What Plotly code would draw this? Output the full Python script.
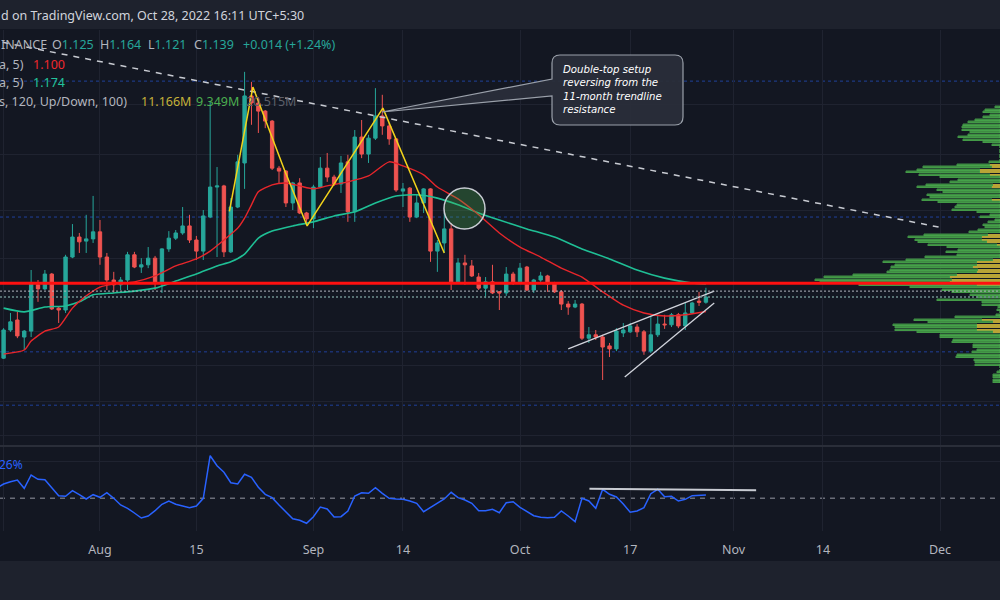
import numpy as np
import pandas as pd
import plotly.graph_objects as go

W, H = 1000, 600
FONT = "Noto Sans"

# ---------------- data ----------------
dates = pd.date_range("2022-07-18", "2022-10-28", freq="D")

opens = [0.974, 1.050, 1.077, 1.031, 1.047, 1.172, 1.161, 1.201, 1.109, 1.104,
         1.247, 1.301, 1.290, 1.296, 1.315, 1.247, 1.185, 1.172, 1.185, 1.253,
         1.220, 1.226, 1.244, 1.177, 1.269, 1.298, 1.312, 1.331, 1.293, 1.263,
         1.355, 1.436, 1.439, 1.261, 1.382, 1.501, 1.682, 1.663, 1.641, 1.614,
         1.487, 1.479, 1.393, 1.447, 1.366, 1.350, 1.436, 1.487, 1.463, 1.444,
         1.504, 1.369, 1.571, 1.525, 1.568, 1.628, 1.601, 1.566, 1.425, 1.433,
         1.355, 1.393, 1.431, 1.263, 1.285, 1.323, 1.180, 1.231, 1.223, 1.193,
         1.163, 1.180, 1.153, 1.150, 1.201, 1.180, 1.220, 1.158, 1.185, 1.196,
         1.177, 1.153, 1.120, 1.112, 1.120, 1.028, 1.037, 1.031, 1.007, 0.999,
         1.042, 1.045, 1.058, 1.045, 0.993, 1.037, 1.066, 1.064, 1.091, 1.061,
         1.096, 1.128, 1.125]
highs = [1.055, 1.096, 1.099, 1.050, 1.212, 1.185, 1.212, 1.204, 1.112, 1.253,
         1.336, 1.312, 1.361, 1.412, 1.347, 1.258, 1.207, 1.193, 1.261, 1.261,
         1.244, 1.274, 1.250, 1.271, 1.317, 1.320, 1.382, 1.361, 1.304, 1.374,
         1.666, 1.490, 1.442, 1.406, 1.523, 1.747, 1.720, 1.679, 1.644, 1.617,
         1.493, 1.482, 1.450, 1.460, 1.369, 1.442, 1.517, 1.528, 1.469, 1.520,
         1.523, 1.590, 1.617, 1.577, 1.703, 1.685, 1.609, 1.568, 1.447, 1.436,
         1.415, 1.433, 1.433, 1.293, 1.366, 1.339, 1.244, 1.253, 1.239, 1.204,
         1.193, 1.226, 1.155, 1.220, 1.207, 1.231, 1.223, 1.188, 1.207, 1.199,
         1.180, 1.158, 1.128, 1.131, 1.123, 1.058, 1.050, 1.037, 1.015, 1.055,
         1.069, 1.069, 1.066, 1.050, 1.088, 1.091, 1.091, 1.096, 1.096, 1.123,
         1.126, 1.153, 1.164]
lows = [0.972, 1.045, 1.028, 0.996, 1.031, 1.126, 1.158, 1.104, 1.069, 1.096,
        1.244, 1.258, 1.258, 1.285, 1.226, 1.158, 1.150, 1.158, 1.158, 1.217,
        1.204, 1.217, 1.158, 1.150, 1.261, 1.293, 1.307, 1.285, 1.239, 1.239,
        1.352, 1.247, 1.247, 1.258, 1.379, 1.431, 1.604, 1.582, 1.595, 1.482,
        1.447, 1.382, 1.374, 1.363, 1.334, 1.325, 1.433, 1.450, 1.439, 1.420,
        1.342, 1.342, 1.514, 1.501, 1.563, 1.577, 1.550, 1.423, 1.382, 1.342,
        1.352, 1.366, 1.234, 1.207, 1.258, 1.158, 1.177, 1.172, 1.193, 1.158,
        1.136, 1.147, 1.104, 1.142, 1.172, 1.177, 1.155, 1.150, 1.180, 1.153,
        1.150, 1.104, 1.091, 1.109, 1.023, 1.015, 1.023, 0.915, 0.977, 0.993,
        1.031, 1.042, 1.031, 0.983, 0.988, 1.031, 1.053, 1.058, 1.055, 1.050,
        1.093, 1.115, 1.121]
closes = [1.050, 1.072, 1.034, 1.047, 1.174, 1.161, 1.201, 1.107, 1.104, 1.247,
          1.301, 1.288, 1.296, 1.315, 1.247, 1.185, 1.172, 1.185, 1.253, 1.220,
          1.226, 1.244, 1.177, 1.269, 1.298, 1.312, 1.331, 1.293, 1.263, 1.358,
          1.436, 1.439, 1.261, 1.382, 1.504, 1.682, 1.663, 1.641, 1.614, 1.487,
          1.479, 1.393, 1.447, 1.366, 1.350, 1.436, 1.487, 1.463, 1.444, 1.501,
          1.369, 1.571, 1.525, 1.568, 1.628, 1.601, 1.566, 1.428, 1.431, 1.355,
          1.393, 1.431, 1.263, 1.285, 1.323, 1.180, 1.231, 1.226, 1.196, 1.163,
          1.180, 1.150, 1.150, 1.201, 1.180, 1.217, 1.158, 1.185, 1.196, 1.174,
          1.153, 1.120, 1.112, 1.120, 1.028, 1.037, 1.031, 1.004, 0.999, 1.047,
          1.050, 1.061, 1.045, 0.993, 1.037, 1.066, 1.064, 1.091, 1.061, 1.096,
          1.123, 1.125, 1.139]

ema_fast_dates = ["2022-07-18", "2022-07-21", "2022-07-22", "2022-07-24", "2022-07-26", "2022-07-28",
                  "2022-07-30", "2022-08-01", "2022-08-03", "2022-08-06", "2022-08-09", "2022-08-12",
                  "2022-08-15", "2022-08-17", "2022-08-19", "2022-08-21", "2022-08-22", "2022-08-23",
                  "2022-08-24", "2022-08-26", "2022-08-28", "2022-08-30", "2022-09-01", "2022-09-03",
                  "2022-09-06", "2022-09-09", "2022-09-12", "2022-09-14", "2022-09-17", "2022-09-19",
                  "2022-09-22", "2022-09-25", "2022-09-28", "2022-10-01", "2022-10-04", "2022-10-07",
                  "2022-10-10", "2022-10-13", "2022-10-16", "2022-10-19", "2022-10-22", "2022-10-25",
                  "2022-10-28"]
ema_fast = [0.985, 0.996, 1.020, 1.047, 1.058, 1.109, 1.142, 1.166, 1.174, 1.180, 1.196, 1.223,
            1.242, 1.263, 1.293, 1.325, 1.352, 1.388, 1.423, 1.442, 1.447, 1.439, 1.431, 1.439,
            1.450, 1.466, 1.504, 1.493, 1.469, 1.436, 1.404, 1.361, 1.312, 1.274, 1.247, 1.217,
            1.193, 1.153, 1.117, 1.096, 1.088, 1.091, 1.100]

ema_slow_dates = ["2022-07-18", "2022-07-21", "2022-07-24", "2022-07-27", "2022-07-29", "2022-07-31",
                  "2022-08-03", "2022-08-06", "2022-08-09", "2022-08-12", "2022-08-15", "2022-08-18",
                  "2022-08-20", "2022-08-22", "2022-08-24", "2022-08-26", "2022-08-29", "2022-09-01",
                  "2022-09-04", "2022-09-07", "2022-09-10", "2022-09-13", "2022-09-16", "2022-09-19",
                  "2022-09-22", "2022-09-25", "2022-09-28", "2022-10-02", "2022-10-06", "2022-10-10",
                  "2022-10-14", "2022-10-18", "2022-10-22", "2022-10-26", "2022-10-28"]
ema_slow = [1.109, 1.099, 1.112, 1.115, 1.126, 1.145, 1.150, 1.155, 1.163, 1.182, 1.201, 1.223,
            1.234, 1.255, 1.298, 1.317, 1.331, 1.342, 1.358, 1.369, 1.393, 1.412, 1.415, 1.406,
            1.388, 1.366, 1.347, 1.323, 1.301, 1.269, 1.242, 1.212, 1.190, 1.177, 1.174]

rsi_dates = pd.date_range("2022-07-17", "2022-10-28", freq="D")
rsi = [60.0, 64.3, 66.6, 68.3, 60.0, 73.3, 69.0, 68.6, 60.6, 52.6,
       52.0, 57.6, 53.6, 49.3, 53.6, 51.0, 55.6, 50.0, 43.3, 40.0,
       35.3, 30.3, 32.3, 37.6, 44.0, 47.3, 44.0, 42.3, 40.6, 42.3,
       50.0, 92.6, 82.6, 76.0, 65.6, 64.3, 74.0, 71.0, 61.0, 54.0,
       50.6, 43.3, 36.6, 29.6, 28.0, 25.0, 31.6, 41.3, 39.3, 31.3,
       31.6, 37.3, 52.3, 55.6, 55.0, 60.6, 55.0, 50.0, 49.3, 49.0,
       47.3, 45.0, 36.6, 40.6, 45.0, 49.3, 56.0, 50.6, 48.3, 45.0,
       37.6, 37.6, 39.0, 35.6, 45.6, 46.6, 41.0, 36.6, 32.6, 31.0,
       30.6, 31.0, 37.3, 32.3, 26.6, 50.0, 47.3, 40.0, 59.0, 54.0,
       51.3, 44.3, 36.0, 37.3, 40.6, 54.6, 59.0, 51.6, 52.0, 47.3,
       49.0, 52.6, 52.6, 53.3]

# volume profile rows (top row price, row step) and volumes (millions)
vp_top_price = 1.6513
vp_row_step = 0.00675
vp_green = [0.5, 1.5, 1.7, 1.0, 1.7, 2.5, 3.2, 3.7, 3.8, 3.8, 3.0, 3.2, 4.2, 3.7, 1.7, 0.8,
            0, 0, 0, 0, 0, 0,
            1.1, 3.3, 6.9, 6.3, 7.4, 7.1, 6.0, 4.2, 5.0,
            6.7, 7.5, 6.3, 5.7, 7.3, 7.0, 7.0, 6.2, 4.3, 4.5,
            4.8, 2.3, 1.0, 2.0, 0.5, 1.2, 1.7, 1.5, 2.2, 3.1,
            6.4, 7.4, 6.7, 6.9, 6.9, 5.3, 4.2, 5.4, 4.3, 7.5,
            8.7, 9.4, 8.2, 8.2, 8.8, 9.0, 10.4, 12.6, 13.7, 13.0,
            11.8, 9.0, 5.8, 4.8, 3.0, 2.3, 6.3, 1.8, 1.8, 0.2,
            0.3, 0, 0.4, 4.5, 6.8, 6.5, 8.4, 8.2, 8.2, 7.6,
            6.0, 6.0, 4.7, 4.8, 2.7, 2.7, 2.3, 2.8, 4.3, 4.4,
            2.6, 2.5, 2.5, 0, 0, 0.3, 0.7, 0.7, 0.7, 0.7]
vp_yellow = [0] * 16 + [0] * 6 + \
            [0, 1.0, 0.8, 2.0, 2.0, 1.0, 0, 0, 0] + \
            [0.7, 0.8, 0, 0, 0, 0, 0.8, 0, 0, 0] + \
            [0] * 10 + \
            [1.2, 1.8, 1.8, 1.3, 0.3, 0, 0, 0, 0, 0] + \
            [0.7, 2.3, 2.3, 2.7, 2.2, 2.3, 4.3, 5.0, 4.8, 5.0] + \
            [2.3, 0, 0, 0, 0, 0, 0, 0, 0, 0] + \
            [0, 0, 0, 0, 1.8, 0.7, 2.3, 2.3, 2.3, 0.7] + \
            [0] * 10 + [0] * 10
vp_price = [round(vp_top_price - vp_row_step * j, 4) for j in range(len(vp_green))]

# drawings
trend_x = ["2022-07-16 04:00", "2022-11-30 19:00"]
trend_y = [1.833, 1.328]
wedge_upper_x = ["2022-10-08 00:00", "2022-10-29 05:00"]
wedge_upper_y = [0.999, 1.155]
wedge_lower_x = ["2022-10-16 05:00", "2022-10-29 05:00"]
wedge_lower_y = [0.923, 1.123]
zigzag_x = ["2022-08-19 19:00", "2022-08-23 05:00", "2022-08-27 19:00",
            "2022-08-31 02:00", "2022-09-11 02:00", "2022-09-20 00:00"]
zigzag_y = [1.370, 1.706, 1.482, 1.331, 1.649, 1.258]
rsi_line_x = ["2022-10-11 02:00", "2022-11-04 07:00"]
rsi_line_y = [59.6, 58.0]

red_level = 1.176
white_level = 1.155
last_price = 1.139
blue_levels = [1.722, 1.355, 0.991, 0.847]
price_grid = [1.660, 1.525, 1.374, 1.244, 1.047, 0.955, 0.858, 0.764]

tick_dates = ["2022-07-18", "2022-08-01", "2022-08-15", "2022-09-01", "2022-09-14",
              "2022-10-01", "2022-10-17", "2022-11-01", "2022-11-14", "2022-12-01"]
tick_text = ["18", "Aug", "15", "Sep", "14", "Oct", "17", "Nov", "14", "Dec"]

callout_text = "Double-top setup<br>reversing from the<br>11-month trendline<br>resistance"

# ---------------- layout helpers ----------------
BG = "#131722"
BAND = "#1e222d"
GRID = "#1f2330"
TEAL = "#26a69a"
RED = "#ef5350"


def yp(py):
    return 1 - py / H


X_RANGE = ["2022-07-17 11:30", "2022-12-09 17:00"]
Y_RANGE = [0.7395, 1.860]
RSI_RANGE = [17.3, 101.3]

fig = go.Figure()

# volume profile (drawn first, below everything)
fig.add_trace(go.Bar(y=vp_price, x=vp_yellow, orientation="h", xaxis="x3", yaxis="y",
                     width=vp_row_step * 0.86, marker=dict(color="#b9a436", line=dict(width=0)),
                     hoverinfo="skip"))
fig.add_trace(go.Bar(y=vp_price, x=vp_green, orientation="h", xaxis="x3", yaxis="y",
                     width=vp_row_step * 0.86, marker=dict(color="#3e8d42", line=dict(color="#4caf50", width=0.4)),
                     hoverinfo="skip"))

# trendline
fig.add_trace(go.Scatter(x=trend_x, y=trend_y, mode="lines", xaxis="x", yaxis="y",
                         line=dict(color="#c8cbd2", width=1.5, dash="6px,6px"), hoverinfo="skip"))

# moving averages
fig.add_trace(go.Scatter(x=ema_slow_dates, y=ema_slow, mode="lines", xaxis="x", yaxis="y",
                         line=dict(color="#1fbf95", width=1.6, shape="spline", smoothing=0.6), hoverinfo="skip"))
fig.add_trace(go.Scatter(x=ema_fast_dates, y=ema_fast, mode="lines", xaxis="x", yaxis="y",
                         line=dict(color="#e8262b", width=1.4, shape="spline", smoothing=0.6), hoverinfo="skip"))

# candles
fig.add_trace(go.Candlestick(x=dates, open=opens, high=highs, low=lows, close=closes,
                             xaxis="x", yaxis="y", whiskerwidth=0,
                             increasing=dict(line=dict(color=TEAL, width=1), fillcolor=TEAL),
                             decreasing=dict(line=dict(color=RED, width=1), fillcolor=RED),
                             hoverinfo="skip"))

# yellow zigzag (double top)
fig.add_trace(go.Scatter(x=zigzag_x, y=zigzag_y, mode="lines", xaxis="x", yaxis="y",
                         line=dict(color="#f2d31b", width=1.5), hoverinfo="skip"))

# rising wedge
for wx, wy in ((wedge_upper_x, wedge_upper_y), (wedge_lower_x, wedge_lower_y)):
    fig.add_trace(go.Scatter(x=wx, y=wy, mode="lines", xaxis="x", yaxis="y",
                             line=dict(color="#d1d4dc", width=1.3), hoverinfo="skip"))

# oscillator panel
fig.add_trace(go.Scatter(x=rsi_dates, y=rsi, mode="lines", xaxis="x2", yaxis="y2",
                         line=dict(color="#2962ff", width=1.5), hoverinfo="skip"))
fig.add_trace(go.Scatter(x=rsi_line_x, y=rsi_line_y, mode="lines", xaxis="x2", yaxis="y2",
                         line=dict(color="#c8cbd2", width=2), hoverinfo="skip"))

shapes = []
# bands
shapes.append(dict(type="rect", xref="paper", yref="paper", x0=0, x1=1, y0=yp(29), y1=1,
                   fillcolor=BAND, line=dict(width=0), layer="below"))
shapes.append(dict(type="rect", xref="paper", yref="paper", x0=0, x1=1, y0=0, y1=yp(561),
                   fillcolor=BAND, line=dict(width=0), layer="below"))
shapes.append(dict(type="line", xref="paper", yref="paper", x0=0, x1=1, y0=yp(446), y1=yp(446),
                   line=dict(color="#2a2e39", width=2)))
# price levels
for lv in blue_levels:
    shapes.append(dict(type="line", xref="paper", yref="y", x0=0, x1=1, y0=lv, y1=lv,
                       line=dict(color="rgba(41,98,255,0.55)", width=1, dash="dot"), layer="below"))
shapes.append(dict(type="line", xref="paper", yref="y", x0=0, x1=1, y0=white_level, y1=white_level,
                   line=dict(color="#b2b5be", width=1, dash="2px,2px")))
shapes.append(dict(type="line", xref="paper", yref="y", x0=0, x1=1, y0=last_price, y1=last_price,
                   line=dict(color="#6f8f8f", width=1.5, dash="2px,2px")))
shapes.append(dict(type="line", xref="paper", yref="y", x0=0, x1=1, y0=red_level, y1=red_level,
                   line=dict(color="#ff1010", width=3)))
# oscillator mid line
shapes.append(dict(type="line", xref="paper", yref="y2", x0=0, x1=1, y0=50, y1=50,
                   line=dict(color="#6a6d78", width=1.5, dash="5px,5px"), layer="below"))
# circle highlighting MA crossover
shapes.append(dict(type="circle", xref="paper", yref="paper",
                   x0=444 / W, x1=485 / W, y0=yp(229), y1=yp(188),
                   fillcolor="rgba(76,175,80,0.30)", line=dict(color="#c9cdd4", width=1.5)))


# callout box
def P(px, py):
    return f"{px / W:.5f},{yp(py):.5f}"


r = 8
L, R, T, B = 552, 683, 55, 125
path = (f"M{P(L + r, T)} L{P(R - r, T)} Q{P(R, T)} {P(R, T + r)} L{P(R, B - r)} "
        f"Q{P(R, B)} {P(R - r, B)} L{P(L + r, B)} Q{P(L, B)} {P(L, B - r)} "
        f"L{P(L, 96)} L{P(382, 112)} L{P(L, 79)} L{P(L, T + r)} Q{P(L, T)} {P(L + r, T)} Z")
shapes.append(dict(type="path", xref="paper", yref="paper", path=path,
                   fillcolor="rgba(42,46,57,0.96)", line=dict(color="#9aa0aa", width=1.2)))

annotations = []


def txt(px, py, text, color="#b2b5be", size=12.5, family=FONT, **font_kw):
    annotations.append(dict(xref="paper", yref="paper", x=px / W, y=yp(py), text=text,
                            xanchor="left", yanchor="middle", showarrow=False, align="left",
                            font=dict(family=family, size=size, color=color, **font_kw)))


def sp(color, s):
    return f"<span style='color:{color}'>{s}</span>"


GRAY = "#b2b5be"
txt(-1, 16, "d on TradingView.com, Oct 28, 2022 16:11 UTC+5:30", color="#d1d4dc", size=12.5)
txt(-1, 45, "INANCE", GRAY)
txt(50, 45, sp(GRAY, "O") + sp(TEAL, "1.125"))
txt(98, 45, sp(GRAY, "H") + sp(TEAL, "1.164"))
txt(146, 45, sp(GRAY, "L") + sp(TEAL, "1.121"))
txt(192, 45, sp(GRAY, "C") + sp(TEAL, "1.139"))
txt(241, 45, "+0.014 (+1.24%)", TEAL)
txt(-3, 64, "a, 5)", GRAY)
txt(31, 64, "1.100", "#f0282d")
txt(-3, 82, "a, 5)", GRAY)
txt(31, 82, "1.174", "#22c39b")
txt(-3, 101, "s, 120, Up/Down, 100)", GRAY)
txt(139, 101, "11.166M", "#c5b239")
txt(194, 101, "9.349M", "#4caf50")
txt(244, 101, "20.515M", "#5d606b")
txt(-3, 464, "26%", "#2962ff", size=12)

# callout text (single block)
txt(561, 89.5, callout_text, "#ffffff", size=10.2, family="DejaVu Sans", style="italic")

axis_common = dict(type="date", range=X_RANGE, showgrid=True, gridcolor=GRID, gridwidth=1,
                   tickvals=tick_dates, zeroline=False, showline=False, fixedrange=True)

fig.update_layout(
    width=W, height=H,
    margin=dict(l=0, r=0, t=0, b=0, pad=0),
    paper_bgcolor=BG, plot_bgcolor=BG,
    showlegend=False, barmode="stack", bargap=0,
    xaxis=dict(domain=[0, 1], anchor="y", showticklabels=False, rangeslider=dict(visible=False),
               **axis_common),
    xaxis2=dict(domain=[0, 1], anchor="y2", matches="x", showticklabels=True, ticktext=tick_text,
                ticks="outside", ticklen=7, tickcolor="rgba(0,0,0,0)",
                tickfont=dict(family=FONT, size=12.5, color=GRAY), automargin=False,
                **axis_common),
    xaxis3=dict(overlaying="x", anchor="y", range=[100, 0], visible=False, fixedrange=True),
    yaxis=dict(domain=[yp(445), yp(30)], anchor="x", range=Y_RANGE, showticklabels=False,
               showgrid=True, gridcolor=GRID, tickvals=price_grid, zeroline=False, fixedrange=True),
    yaxis2=dict(domain=[yp(531), yp(447)], anchor="x2", range=RSI_RANGE, showticklabels=False,
                showgrid=True, gridcolor=GRID, tickvals=[87.3], zeroline=False, fixedrange=True),
    shapes=shapes,
    annotations=annotations,
)

fig.write_html("out.html", config={"displayModeBar": False},
               post_script="document.body.style.margin='0';document.body.style.overflow='hidden';")
